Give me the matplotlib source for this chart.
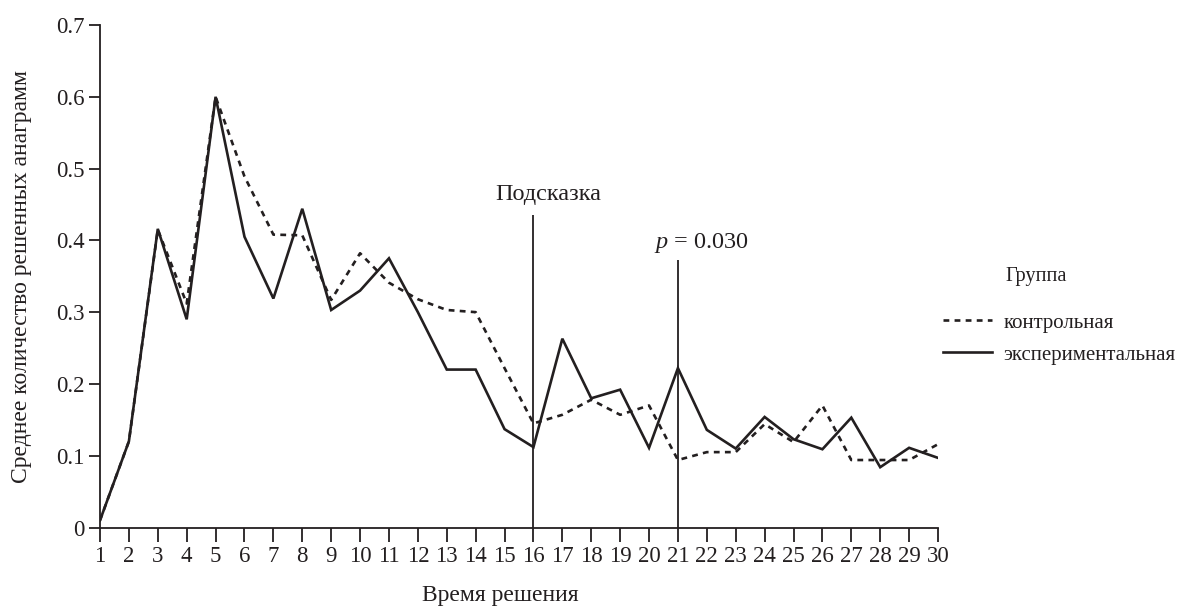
import matplotlib
matplotlib.use("Agg")
import matplotlib.pyplot as plt

plt.rcParams['font.family'] = ['Liberation Serif', 'DejaVu Serif']
plt.rcParams['mathtext.fontset'] = 'custom'
plt.rcParams['mathtext.it'] = 'Liberation Serif:italic'
plt.rcParams['mathtext.rm'] = 'Liberation Serif'

# ---- data ----
time_points = list(range(1, 31))
control = [0.010, 0.120, 0.415, 0.312, 0.600, 0.489, 0.408, 0.407, 0.317, 0.382,
           0.341, 0.318, 0.303, 0.300, 0.222, 0.145, 0.157, 0.178, 0.157, 0.170,
           0.094, 0.105, 0.105, 0.144, 0.119, 0.170, 0.094, 0.094, 0.094, 0.116]
experimental = [0.010, 0.120, 0.416, 0.290, 0.600, 0.405, 0.319, 0.444, 0.303, 0.330,
                0.375, 0.300, 0.220, 0.220, 0.137, 0.112, 0.263, 0.180, 0.192, 0.111,
                0.222, 0.136, 0.110, 0.154, 0.123, 0.109, 0.153, 0.084, 0.111, 0.097]
y_ticks = [0, 0.1, 0.2, 0.3, 0.4, 0.5, 0.6, 0.7]
y_tick_labels = ['0', '0.1', '0.2', '0.3', '0.4', '0.5', '0.6', '0.7']
series_labels = ['контрольная', 'экспериментальная']
legend_title = 'Группа'
hint_time = 16
hint_top = 0.436
hint_label = 'Подсказка'
sig_time = 21
sig_top = 0.3725
sig_label = '$p$ = 0.030'
x_label = 'Время решения'
y_label = 'Среднее количество решенных анаграмм'

INK = '#231f20'

# ---- figure ----
fig = plt.figure(figsize=(11.8, 6.07), dpi=100)
ax = fig.add_axes([100/1180, 1 - 527.5/607, (938 - 100)/1180, (527.5 - 25)/607])

ax.plot(time_points, control, color=INK, lw=1.9, linestyle=(0, (2.2, 2.0)),
        label=series_labels[0])
ax.plot(time_points, experimental, color=INK, lw=1.9, linestyle='-',
        label=series_labels[1], solid_joinstyle='miter')

ax.vlines([hint_time], 0, hint_top, color=INK, lw=1.3)
ax.vlines([sig_time], 0, sig_top, color=INK, lw=1.3)
ax.text(hint_time + 0.52, 0.464, hint_label, ha='center', va='center', fontsize=17.5, color=INK)
ax.text(sig_time + 0.8, 0.396, sig_label, ha='center', va='center', fontsize=17.5, color=INK)

ax.set_xlim(1, 30)
ax.set_ylim(0, 0.7)
ax.set_xticks(time_points)
ax.set_xticklabels([str(t) for t in time_points])
ax.set_yticks(y_ticks)
ax.set_yticklabels(y_tick_labels)

for s in ['top', 'right']:
    ax.spines[s].set_visible(False)
for s in ['left', 'bottom']:
    ax.spines[s].set_linewidth(1.3)
    ax.spines[s].set_color(INK)
ax.tick_params(axis='x', direction='out', length=10, width=1.3, labelsize=16.5, pad=3, colors=INK)
ax.tick_params(axis='y', direction='out', length=8, width=1.3, labelsize=16.5, pad=3, colors=INK)

ax.set_xlabel(x_label, fontsize=17, color=INK, va='center')
ax.xaxis.set_label_coords((500 - 100) / 838, (527.5 - 595) / 502.5)
ax.set_ylabel(y_label, fontsize=17, color=INK, va='center')
ax.yaxis.set_label_coords((22 - 100) / 838, 0.5)

fig.text(1005/1180, 1 - 276/607, legend_title, fontsize=14.7, ha='left', va='center', color=INK)
leg = fig.legend(loc='upper left', bbox_to_anchor=(943/1180, 1 - 313/607), frameon=False,
                 fontsize=15, handlelength=2.35, handletextpad=0.55, labelspacing=0.6,
                 borderpad=0, borderaxespad=0)
for t in leg.get_texts():
    t.set_color(INK)

fig.savefig('out.png', dpi=100)
